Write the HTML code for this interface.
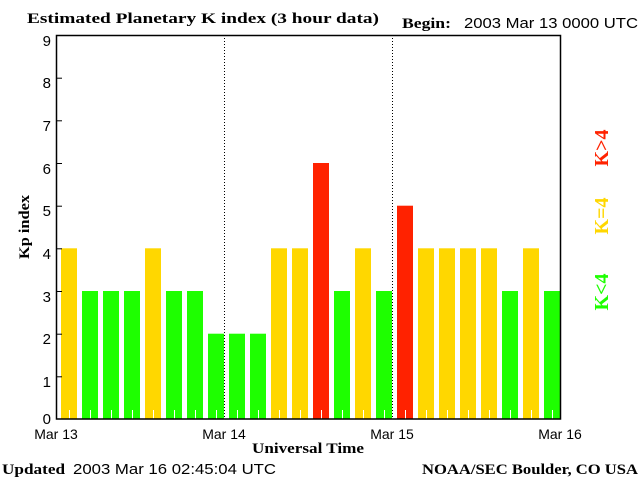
<!DOCTYPE html>
<html><head><style>
html,body{margin:0;padding:0;background:#fff;}
svg{display:block;}
.s{font-family:"Liberation Serif",serif;font-weight:bold;}
.n{font-family:"Liberation Sans",sans-serif;}
</style></head><body>
<svg width="640" height="480" xmlns="http://www.w3.org/2000/svg">
<rect width="640" height="480" fill="#fff"/>
<g>
<rect x="61" y="248.3" width="16" height="170.7" fill="#ffd700"/>
<rect x="82" y="291" width="16" height="128" fill="#1eff00"/>
<rect x="103" y="291" width="16" height="128" fill="#1eff00"/>
<rect x="124" y="291" width="16" height="128" fill="#1eff00"/>
<rect x="145" y="248.3" width="16" height="170.7" fill="#ffd700"/>
<rect x="166" y="291" width="16" height="128" fill="#1eff00"/>
<rect x="187" y="291" width="16" height="128" fill="#1eff00"/>
<rect x="208" y="333.7" width="16" height="85.3" fill="#1eff00"/>
<rect x="229" y="333.7" width="16" height="85.3" fill="#1eff00"/>
<rect x="250" y="333.7" width="16" height="85.3" fill="#1eff00"/>
<rect x="271" y="248.3" width="16" height="170.7" fill="#ffd700"/>
<rect x="292" y="248.3" width="16" height="170.7" fill="#ffd700"/>
<rect x="313" y="163" width="16" height="256" fill="#ff2200"/>
<rect x="334" y="291" width="16" height="128" fill="#1eff00"/>
<rect x="355" y="248.3" width="16" height="170.7" fill="#ffd700"/>
<rect x="376" y="291" width="16" height="128" fill="#1eff00"/>
<rect x="397" y="205.7" width="16" height="213.3" fill="#ff2200"/>
<rect x="418" y="248.3" width="16" height="170.7" fill="#ffd700"/>
<rect x="439" y="248.3" width="16" height="170.7" fill="#ffd700"/>
<rect x="460" y="248.3" width="16" height="170.7" fill="#ffd700"/>
<rect x="481" y="248.3" width="16" height="170.7" fill="#ffd700"/>
<rect x="502" y="291" width="16" height="128" fill="#1eff00"/>
<rect x="523" y="248.3" width="16" height="170.7" fill="#ffd700"/>
<rect x="544" y="291" width="16" height="128" fill="#1eff00"/>
</g>
<g stroke="#fff" stroke-width="1">
<path d="M69.5 410V419M90.5 410V419M111.5 410V419M132.5 410V419M153.5 410V419M174.5 410V419M195.5 410V419M216.5 410V419M237.5 410V419M258.5 410V419M279.5 410V419M300.5 410V419M321.5 410V419M342.5 410V419M363.5 410V419M384.5 410V419M405.5 410V419M426.5 410V419M447.5 410V419M468.5 410V419M489.5 410V419M510.5 410V419M531.5 410V419M552.5 410V419"/>
</g>
<line x1="224.5" y1="35" x2="224.5" y2="419" stroke="#000" stroke-dasharray="1,2"/>
<line x1="392.5" y1="35" x2="392.5" y2="419" stroke="#000" stroke-dasharray="1,2"/>
<rect x="56.5" y="35.5" width="504" height="383.5" fill="none" stroke="#000" stroke-width="1.5"/>
<g stroke="#000">
<line x1="56" y1="35.5" x2="62" y2="35.5"/><line x1="56" y1="78.2" x2="62" y2="78.2"/>
<line x1="56" y1="120.8" x2="62" y2="120.8"/><line x1="56" y1="163.5" x2="62" y2="163.5"/>
<line x1="56" y1="206.2" x2="62" y2="206.2"/><line x1="56" y1="248.8" x2="62" y2="248.8"/>
<line x1="56" y1="291.5" x2="62" y2="291.5"/><line x1="56" y1="334.2" x2="62" y2="334.2"/>
<line x1="56" y1="376.8" x2="62" y2="376.8"/>
</g>
<g class="n" font-size="15" text-anchor="end" fill="#000">
<text x="51" y="46">9</text><text x="51" y="88">8</text><text x="51" y="131">7</text>
<text x="51" y="174">6</text><text x="51" y="216">5</text><text x="51" y="259">4</text>
<text x="51" y="302">3</text><text x="51" y="344">2</text><text x="51" y="387">1</text>
<text x="51" y="424">0</text>
</g>
<g class="n" font-size="14" text-anchor="middle" fill="#000">
<text x="56" y="439">Mar 13</text><text x="224" y="439">Mar 14</text>
<text x="392" y="439">Mar 15</text><text x="560" y="439">Mar 16</text>
</g>
<text class="s" x="27" y="23" font-size="15" textLength="352" lengthAdjust="spacingAndGlyphs">Estimated Planetary K index (3 hour data)</text>
<text class="s" x="402" y="28" font-size="15" textLength="49" lengthAdjust="spacingAndGlyphs">Begin:</text>
<text class="n" x="464" y="28" font-size="15" textLength="174" lengthAdjust="spacingAndGlyphs">2003 Mar 13 0000 UTC</text>
<text class="s" x="308" y="453" font-size="15" text-anchor="middle" textLength="112" lengthAdjust="spacingAndGlyphs">Universal Time</text>
<text class="s" transform="translate(29,227) rotate(-90)" font-size="15" text-anchor="middle" textLength="64" lengthAdjust="spacingAndGlyphs">Kp index</text>
<text class="s" x="2" y="474" font-size="15" textLength="63" lengthAdjust="spacingAndGlyphs">Updated</text>
<text class="n" x="73" y="474" font-size="15" textLength="203" lengthAdjust="spacingAndGlyphs">2003 Mar 16 02:45:04 UTC</text>
<text class="s" x="422" y="474" font-size="15" textLength="216" lengthAdjust="spacingAndGlyphs">NOAA/SEC Boulder, CO USA</text>
<g class="s" font-size="20" text-anchor="middle">
<text transform="translate(608,148) rotate(-90)" fill="#ff2200">K&gt;4</text>
<text transform="translate(608,216) rotate(-90)" fill="#ffd700">K=4</text>
<text transform="translate(608,292) rotate(-90)" fill="#1eff00">K&lt;4</text>
</g>
</svg>
</body></html>
